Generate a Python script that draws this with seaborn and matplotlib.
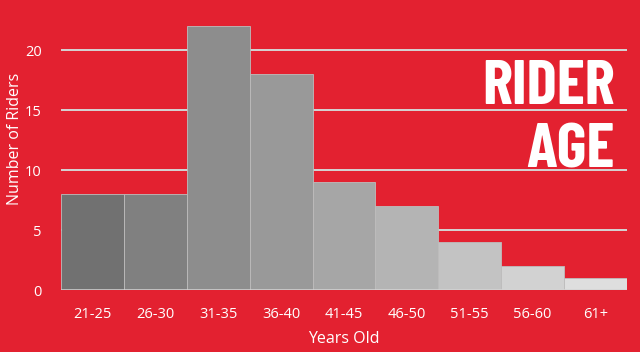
import matplotlib
matplotlib.use("Agg")
import matplotlib.pyplot as plt
import seaborn as sns
import pandas as pd

age_groups = ["21-25", "26-30", "31-35", "36-40", "41-45", "46-50", "51-55", "56-60", "61+"]
riders = [8, 8, 22, 18, 9, 7, 4, 2, 1]
bar_colors = ["#717171", "#808080", "#8d8d8d", "#999999", "#a6a6a6",
              "#b4b4b4", "#c3c3c3", "#d2d2d2", "#dedede"]
y_ticks = [0, 5, 10, 15, 20]

bg = "#e32130"
grid_col = "#d4d4d4"

sns.set_theme(style="white")
plt.rcParams["font.family"] = ["Open Sans", "DejaVu Sans"]
plt.rcParams["font.weight"] = 500

df = pd.DataFrame({"age": age_groups, "riders": riders})

fig = plt.figure(figsize=(6.4, 3.52), dpi=100, facecolor=bg)
ax = fig.add_axes([61 / 640, 1 - 290 / 352, (627 - 61) / 640, (290 - 20) / 352])
ax.set_facecolor(bg)

sns.barplot(data=df, x="age", y="riders", hue="age", palette=bar_colors,
            legend=False, width=1.0, linewidth=0.6, edgecolor="#bdbdbd",
            saturation=1, ax=ax, zorder=3)

ax.set_ylim(0, 22.5)
ax.set_xlim(-0.5, len(age_groups) - 0.5)
ax.set_yticks(y_ticks)
for t in y_ticks:
    ax.axhline(t, color=grid_col, linewidth=1.8 if t == 0 else 1.4, zorder=1 if t else 4)

for s in ax.spines.values():
    s.set_visible(False)

ax.tick_params(axis="both", length=0, colors="white", labelsize=10.5)
ax.tick_params(axis="x", pad=12)
ax.tick_params(axis="y", pad=14)
ax.set_xlabel("Years Old", color="white", fontsize=11.5, labelpad=7)
ax.set_ylabel("Number of Riders", color="white", fontsize=11.5)
ax.yaxis.set_label_coords(-0.068, (290 - 139) / 270)

title_family = ["Barlow Condensed", "Roboto Condensed", "DejaVu Sans"]
fig.text(615 / 640, 1 - 104 / 352, "RIDER", color="white", fontsize=46,
         fontweight="bold", family=title_family, ha="right", va="baseline")
fig.text(615 / 640, 1 - 168 / 352, "AGE", color="white", fontsize=46,
         fontweight="bold", family=title_family, ha="right", va="baseline")

fig.savefig("out.png", dpi=100, facecolor=bg)
